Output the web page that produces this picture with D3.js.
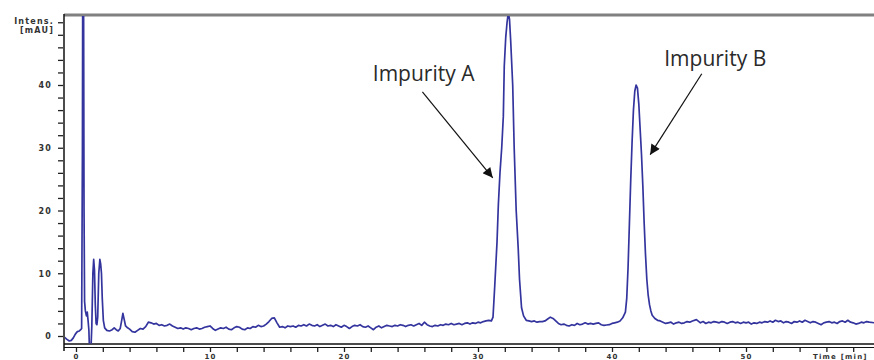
<!DOCTYPE html>
<html lang="en">
<head>
    <meta charset="UTF-8">
    <title>Chromatogram - Impurity A / B</title>
    <script src="https://d3js.org/d3.v7.min.js"></script>
    <style>
        body { margin: 0; background: #fff; }
        .ylab, .xlab { font-family: "DejaVu Sans", sans-serif; font-weight: bold; font-size: 8px; fill: #333; letter-spacing: 1.2px; }
        .xlab { font-size: 7px; }
        .note { font-family: "Open Sans", sans-serif; font-size: 21px; fill: #2a2a2a; }
    </style>
</head>
<body>
<div id="chart"></div>
<script>
    // chromatogram trace, split by region: [time (min), intensity (mAU)]
    const injectionTrace = [
        [-0.85, -0.2], [-0.7, -0.5], [-0.5, -0.8], [-0.35, -0.7], [-0.2, -0.3], [-0.05, 0.3],
        [0.1, 0.7], [0.25, 0.8], [0.35, 1.0], [0.42, 1.2], [0.48, 30], [0.52, 80], [0.56, 60],
        [0.6, 20], [0.64, 5.5], [0.7, 4.0], [0.78, 3.2], [0.84, 3.8], [0.9, 2.5], [0.96, 1.0],
        [1.02, -3], [1.1, -3], [1.18, 1.5], [1.26, 10], [1.32, 12.2], [1.38, 10.5], [1.44, 5],
        [1.5, 2.0], [1.56, 1.8], [1.62, 3], [1.7, 10], [1.78, 12.2], [1.84, 11.5], [1.9, 10],
        [1.96, 6], [2.04, 2.5], [2.14, 1.3], [2.3, 0.9], [2.5, 0.8], [2.7, 1.0], [2.85, 1.3],
        [3.0, 1.0], [3.15, 0.8], [3.3, 1.2], [3.42, 2.6], [3.5, 3.6], [3.58, 2.8], [3.7, 1.6],
        [3.85, 1.3], [4.0, 1.1], [4.2, 0.7], [4.4, 0.6], [4.6, 0.9], [4.8, 1.2], [5.0, 1.1]
    ];
    const earlyBaseline = [
        [5.2, 1.5], [5.4, 2.2], [5.6, 2.1], [5.8, 1.9], [6.0, 2.0], [6.2, 1.7], [6.4, 1.8],
        [6.6, 1.6], [6.8, 1.7], [7.0, 1.9], [7.2, 1.6], [7.4, 1.4], [7.6, 1.2], [7.8, 1.3],
        [8.0, 1.1], [8.2, 1.3], [8.4, 1.2], [8.6, 1.0], [8.8, 1.2], [9.0, 1.3], [9.2, 1.1],
        [9.4, 1.2], [9.6, 1.4], [9.8, 1.5], [10.0, 1.6], [10.2, 1.2], [10.4, 0.9], [10.6, 1.1],
        [10.8, 1.3], [11.0, 1.2], [11.2, 1.4], [11.4, 1.1], [11.6, 1.0], [11.8, 1.3], [12.0, 1.5],
        [12.2, 1.4], [12.4, 1.1], [12.6, 1.0], [12.8, 1.3], [13.0, 1.2], [13.2, 1.5], [13.4, 1.4],
        [13.6, 1.7], [13.8, 1.5], [14.0, 1.6], [14.2, 1.9], [14.4, 2.3], [14.6, 2.8], [14.8, 2.9],
        [15.0, 2.1], [15.2, 1.4], [15.4, 1.5], [15.6, 1.3], [15.8, 1.6], [16.0, 1.5], [16.2, 1.6],
        [16.4, 1.4], [16.6, 1.7], [16.8, 1.6], [17.0, 1.8], [17.2, 1.6], [17.4, 1.9], [17.6, 1.7],
        [17.8, 1.6], [18.0, 1.8], [18.2, 1.5], [18.4, 1.7], [18.6, 1.9], [18.8, 1.6], [19.0, 1.7],
        [19.2, 1.5], [19.4, 1.8], [19.6, 1.6], [19.8, 1.4], [20.0, 1.7], [20.2, 1.5], [20.4, 1.2],
        [20.6, 1.5], [20.8, 1.7], [21.0, 1.6], [21.2, 1.8], [21.4, 1.5], [21.6, 1.4], [21.8, 1.6],
        [22.0, 1.3], [22.2, 1.0], [22.4, 1.4], [22.6, 1.6], [22.8, 1.3], [23.0, 1.5], [23.2, 1.7],
        [23.4, 1.6], [23.6, 1.5], [23.8, 1.7], [24.0, 1.6], [24.2, 1.8], [24.4, 1.7], [24.6, 1.5],
        [24.8, 1.7], [25.0, 1.8], [25.2, 1.6], [25.4, 1.8], [25.6, 2.0], [25.8, 1.7], [26.0, 2.2],
        [26.2, 1.8], [26.4, 1.6], [26.6, 1.5], [26.8, 1.7], [27.0, 1.6], [27.2, 1.8], [27.4, 1.7],
        [27.6, 1.9], [27.8, 1.8], [28.0, 2.0], [28.2, 1.8], [28.4, 1.9], [28.6, 2.0], [28.8, 1.8],
        [29.0, 2.0], [29.2, 2.1], [29.4, 1.9], [29.6, 2.1], [29.8, 2.0], [30.0, 2.2], [30.2, 2.1],
        [30.4, 2.3], [30.6, 2.4], [30.8, 2.5]
    ];
    const peakA = [
        [31.0, 2.4], [31.12, 3], [31.25, 8], [31.42, 15], [31.52, 21], [31.64, 26], [31.77, 30],
        [31.89, 35], [31.96, 43], [32.07, 47.6], [32.17, 50], [32.26, 51.5], [32.35, 50.5],
        [32.44, 47], [32.59, 40], [32.7, 30], [32.85, 20], [33.0, 14], [33.1, 9], [33.25, 4.5],
        [33.4, 3.2], [33.6, 2.5], [33.8, 2.4]
    ];
    const middleBaseline = [
        [34.0, 2.3], [34.2, 2.4], [34.4, 2.2], [34.6, 2.3], [34.8, 2.3], [35.0, 2.4], [35.2, 2.7],
        [35.4, 3.0], [35.6, 2.8], [35.8, 2.4], [36.0, 2.0], [36.2, 1.8], [36.4, 1.9], [36.6, 1.7],
        [36.8, 1.6], [37.0, 1.8], [37.2, 1.7], [37.4, 2.0], [37.6, 1.8], [37.8, 1.9], [38.0, 2.1],
        [38.2, 1.9], [38.4, 2.0], [38.6, 1.9], [38.8, 2.0], [39.0, 2.1], [39.2, 1.8], [39.4, 1.7],
        [39.6, 1.75], [39.8, 1.8], [40.0, 2.0]
    ];
    const peakB = [
        [40.2, 2.1], [40.4, 2.2], [40.6, 2.4], [40.8, 2.9], [41.0, 3.8], [41.1, 6], [41.2, 11],
        [41.3, 18], [41.4, 25], [41.5, 31], [41.6, 36], [41.7, 39], [41.8, 40], [41.9, 39.5],
        [42.0, 37], [42.1, 33], [42.2, 29], [42.3, 24], [42.4, 18], [42.5, 13], [42.6, 9],
        [42.7, 6.5], [42.8, 5], [42.9, 4], [43.0, 3.3], [43.2, 2.8], [43.4, 2.5], [43.6, 2.4],
        [43.8, 2.2]
    ];
    const lateBaseline = [
        [44.0, 2.0], [44.2, 2.1], [44.4, 2.2], [44.6, 1.9], [44.8, 2.1], [45.0, 2.2], [45.2, 2.0],
        [45.4, 2.1], [45.6, 2.3], [45.8, 2.2], [46.0, 2.4], [46.3, 2.6], [46.6, 2.1], [46.8, 2.3],
        [47.0, 2.0], [47.2, 2.2], [47.4, 2.1], [47.6, 2.3], [47.8, 2.2], [48.0, 2.1], [48.2, 2.3],
        [48.4, 2.2], [48.6, 2.0], [48.8, 2.2], [49.0, 2.3], [49.2, 2.1], [49.4, 2.2], [49.6, 2.0],
        [49.8, 2.2], [50.0, 2.1], [50.2, 2.2], [50.4, 1.9], [50.6, 2.1], [50.8, 2.0], [51.0, 2.2],
        [51.2, 2.1], [51.4, 2.3], [51.6, 2.2], [51.8, 2.4], [52.0, 2.2], [52.2, 2.5], [52.4, 2.3],
        [52.6, 2.4], [52.8, 2.1], [53.0, 2.3], [53.2, 2.2], [53.4, 2.0], [53.6, 2.3], [53.8, 2.2],
        [54.0, 2.4], [54.2, 2.2], [54.4, 2.5], [54.6, 2.3], [54.8, 2.1], [55.0, 2.3], [55.2, 2.2],
        [55.4, 2.0], [55.6, 1.8], [55.8, 2.1], [56.0, 2.2], [56.2, 2.3], [56.4, 2.1], [56.6, 2.2],
        [56.8, 2.0], [57.0, 2.3], [57.2, 2.4], [57.4, 2.2], [57.6, 2.5], [57.8, 2.2], [58.0, 2.1],
        [58.2, 1.9], [58.4, 2.0], [58.6, 2.2], [58.8, 2.1], [59.0, 2.3], [59.2, 2.2], [59.6, 2.1]
    ];

    const yTickLabels = [0, 10, 20, 30, 40];
    const xTickLabels = [0, 10, 20, 30, 40, 50];
    const yTitle = ["Intens.", "[mAU]"];
    const xTitle = "Time [min]";

    // annotations: label, label anchor (time, intensity), arrow start and tip (time, intensity)
    const notes = [
        { label: "Impurity A", at: [22.15, 40.7], from: [25.85, 38.9], to: [31.1, 25.2] },
        { label: "Impurity B", at: [43.9, 43.1], from: [46.7, 41.8], to: [42.85, 28.9] }
    ];

    const trace = [].concat(injectionTrace, earlyBaseline, peakA, middleBaseline, peakB, lateBaseline);

    const width = 874, height = 360;
    const plotLeft = 64, plotTop = 15, plotRight = 874, axisY = 344;

    const x = d3.scaleLinear().domain([0, 50]).range([76, 746]);
    const y = d3.scaleLinear().domain([0, 40]).range([336, 85]);

    const svg = d3.select("#chart").append("svg")
        .attr("width", width)
        .attr("height", height);

    const defs = svg.append("defs");
    defs.append("clipPath").attr("id", "plotClip")
        .append("rect")
        .attr("x", plotLeft + 1).attr("y", plotTop + 1)
        .attr("width", plotRight - plotLeft).attr("height", axisY - plotTop - 1.5);

    defs.append("marker")
        .attr("id", "arrowHead")
        .attr("viewBox", "0 0 10 10")
        .attr("refX", 10).attr("refY", 5)
        .attr("markerWidth", 14).attr("markerHeight", 10)
        .attr("markerUnits", "userSpaceOnUse")
        .attr("orient", "auto")
        .append("path")
        .attr("d", "M0,0 L10,5 L0,10 z")
        .attr("fill", "#111");

    // frame: grey top rule, black left axis, double bottom rule
    svg.append("line")
        .attr("x1", plotLeft).attr("x2", plotRight).attr("y1", plotTop).attr("y2", plotTop)
        .attr("stroke", "#808080").attr("stroke-width", 3);
    svg.append("line")
        .attr("x1", plotLeft).attr("x2", plotLeft).attr("y1", plotTop - 1).attr("y2", 351)
        .attr("stroke", "#111").attr("stroke-width", 1.5);
    svg.append("line")
        .attr("x1", plotLeft).attr("x2", plotRight).attr("y1", axisY).attr("y2", axisY)
        .attr("stroke", "#111").attr("stroke-width", 1.5);
    svg.append("line")
        .attr("x1", plotLeft).attr("x2", plotRight).attr("y1", axisY + 3.5).attr("y2", axisY + 3.5)
        .attr("stroke", "#111").attr("stroke-width", 1.2);

    // y ticks every 2 mAU
    const yAxis = d3.axisLeft(y)
        .tickValues(d3.range(0, 51, 2))
        .tickSize(5)
        .tickFormat(d => yTickLabels.includes(d) ? d : "");
    const gy = svg.append("g")
        .attr("transform", `translate(${plotLeft - 1},0)`)
        .call(yAxis);
    gy.select(".domain").remove();
    gy.selectAll(".tick line").attr("stroke", "#222").attr("stroke-width", 1.3);
    gy.selectAll(".tick text").attr("class", "ylab").attr("x", -11).attr("dy", "0.35em");

    svg.selectAll(".ytitle")
        .data(yTitle)
        .enter().append("text")
        .attr("class", "ylab")
        .attr("x", 54)
        .attr("y", (d, i) => 24 + i * 9)
        .attr("text-anchor", "end")
        .text(d => d);

    // x ticks every 2 min
    const xAxis = d3.axisBottom(x)
        .tickValues(d3.range(0, 59, 2))
        .tickSize(4)
        .tickFormat(d => xTickLabels.includes(d) ? d : "");
    const gx = svg.append("g")
        .attr("transform", `translate(0,${axisY + 4})`)
        .call(xAxis);
    gx.select(".domain").remove();
    gx.selectAll(".tick line").attr("stroke", "#222").attr("stroke-width", 1.3);
    gx.selectAll(".tick text").attr("class", "xlab").attr("y", 10.5).attr("dy", null);

    svg.append("text")
        .attr("class", "xlab")
        .attr("x", 813)
        .attr("y", axisY + 14.5)
        .text(xTitle);

    // trace
    const line = d3.line()
        .x(d => x(d[0]))
        .y(d => y(d[1]));

    svg.append("path")
        .datum(trace)
        .attr("clip-path", "url(#plotClip)")
        .attr("d", line)
        .attr("fill", "none")
        .attr("stroke", "#34349e")
        .attr("stroke-width", 1.7)
        .attr("stroke-linejoin", "round");

    // annotations
    const ann = svg.selectAll(".note-g")
        .data(notes)
        .enter().append("g");

    ann.append("text")
        .attr("class", "note")
        .attr("x", d => x(d.at[0]))
        .attr("y", d => y(d.at[1]))
        .text(d => d.label);

    ann.append("line")
        .attr("x1", d => x(d.from[0])).attr("y1", d => y(d.from[1]))
        .attr("x2", d => x(d.to[0])).attr("y2", d => y(d.to[1]))
        .attr("stroke", "#111")
        .attr("stroke-width", 1.2)
        .attr("marker-end", "url(#arrowHead)");
</script>
</body>
</html>
